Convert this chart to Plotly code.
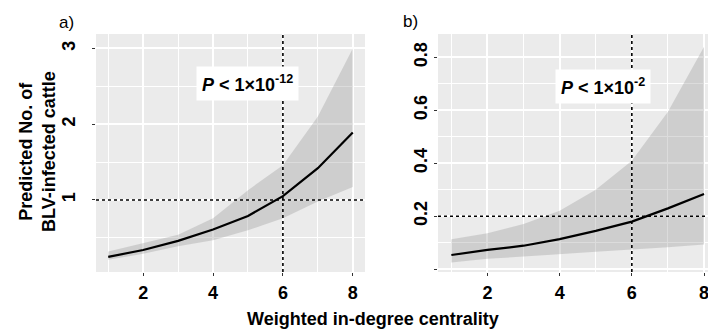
import plotly.graph_objects as go

W, H = 708, 331

# ---- data ----
centrality = [1, 2, 3, 4, 5, 6, 7, 8]
pred_a = [0.25, 0.34, 0.46, 0.61, 0.79, 1.05, 1.42, 1.89]
lower_a = [0.21, 0.29, 0.39, 0.47, 0.60, 0.76, 0.98, 1.17]
upper_a = [0.32, 0.43, 0.54, 0.76, 1.13, 1.46, 2.10, 3.00]

pred_b = [0.054, 0.073, 0.089, 0.114, 0.145, 0.180, 0.230, 0.284]
lower_b = [0.026, 0.040, 0.048, 0.058, 0.066, 0.075, 0.083, 0.094]
upper_b = [0.113, 0.136, 0.171, 0.221, 0.300, 0.410, 0.595, 0.840]

x_ticks = [2, 4, 6, 8]
x_minor = [1, 3, 5, 7]
y_ticks_a = [1, 2, 3]
y_minor_a = [0.5, 1.5, 2.5]
y_ticks_b = [0.0, 0.2, 0.4, 0.6, 0.8]
y_ticklabels_b = ["", "0.2", "0.4", "0.6", "0.8"]
y_minor_b = [0.1, 0.3, 0.5, 0.7]

ref_x = 6
ref_y_a = 1.0
ref_y_b = 0.2

label_a = "<b><i>P</i> < 1×10<sup>-12</sup></b>"
label_b = "<b><i>P</i> < 1×10<sup>-2</sup></b>"

FONT = "Liberation Sans, Arial, sans-serif"
RIB = "rgba(150,150,150,0.33)"

fig = go.Figure()

def add_panel(xa, ya, lower, upper, pred):
    fig.add_trace(go.Scatter(x=centrality, y=lower, mode="lines", line=dict(width=0),
                             xaxis=xa, yaxis=ya, showlegend=False, hoverinfo="skip"))
    fig.add_trace(go.Scatter(x=centrality, y=upper, mode="lines", line=dict(width=0),
                             fill="tonexty", fillcolor=RIB,
                             xaxis=xa, yaxis=ya, showlegend=False, hoverinfo="skip"))
    fig.add_trace(go.Scatter(x=centrality, y=pred, mode="lines",
                             line=dict(color="black", width=2.2),
                             xaxis=xa, yaxis=ya, showlegend=False))

add_panel("x", "y", lower_a, upper_a, pred_a)
add_panel("x2", "y2", lower_b, upper_b, pred_b)

tickfont = dict(family=FONT, size=18, color="black", weight="bold")

common_x = dict(tickvals=x_ticks, ticks="outside", ticklen=3, tickcolor="#333333",
                showgrid=True, gridcolor="white", gridwidth=1.6, zeroline=False,
                minor=dict(tickvals=x_minor, showgrid=True, gridcolor="white", gridwidth=0.7, ticks=""),
                tickfont=tickfont, showline=False, automargin=False,
                ticklabeloverflow="allow", ticklabelstandoff=1)

common_y = dict(tickangle=-90, ticks="outside", ticklen=3, tickcolor="#333333",
                showgrid=True, gridcolor="white", gridwidth=1.6, zeroline=False,
                tickfont=tickfont, automargin=False, ticklabeloverflow="allow")

dom_y = [1 - 272 / H, 1 - 34 / H]

fig.update_layout(
    width=W, height=H,
    margin=dict(l=0, r=0, t=0, b=0),
    paper_bgcolor="white",
    plot_bgcolor="#EBEBEB",
    xaxis=dict(common_x, domain=[96 / W, 365 / W], range=[0.65, 8.35], anchor="y"),
    xaxis2=dict(common_x, domain=[438 / W, 1.0], range=[0.63, 8.11], anchor="y2"),
    yaxis=dict(common_y, domain=dom_y, range=[0.05, 3.19], tickvals=y_ticks_a,
               minor=dict(tickvals=y_minor_a, showgrid=True, gridcolor="white", gridwidth=0.7, ticks=""),
               anchor="x", ticklabelstandoff=10),
    yaxis2=dict(common_y, domain=dom_y, range=[-0.0102, 0.888], tickvals=y_ticks_b,
                ticktext=y_ticklabels_b,
                minor=dict(tickvals=y_minor_b, showgrid=True, gridcolor="white", gridwidth=0.7, ticks=""),
                anchor="x2", ticklabelstandoff=0),
)

# dotted reference lines
dot = dict(color="black", width=1.6, dash="dot")
fig.add_shape(type="line", xref="x", yref="y domain", x0=ref_x, x1=ref_x, y0=0, y1=1, line=dot, layer="above")
fig.add_shape(type="line", xref="x domain", yref="y", x0=0, x1=1, y0=ref_y_a, y1=ref_y_a, line=dot, layer="above")
fig.add_shape(type="line", xref="x2", yref="y2 domain", x0=ref_x, x1=ref_x, y0=0, y1=1, line=dot, layer="above")
fig.add_shape(type="line", xref="x2 domain", yref="y2", x0=0, x1=1, y0=ref_y_b, y1=ref_y_b, line=dot, layer="above")

# P-value labels
fig.add_annotation(x=5.0, y=2.54, xref="x", yref="y", text=label_a, showarrow=False,
                   bgcolor="white", borderpad=5,
                   font=dict(family=FONT, size=18, color="black"))
fig.add_annotation(x=5.2, y=0.69, xref="x2", yref="y2", text=label_b, showarrow=False,
                   bgcolor="white", borderpad=5,
                   font=dict(family=FONT, size=18, color="black"))

# panel letters
fig.add_annotation(x=57 / W, y=1 - 23 / H, xref="paper", yref="paper", text="a)", showarrow=False,
                   xanchor="left", yanchor="middle", font=dict(family=FONT, size=17, color="black"))
fig.add_annotation(x=401 / W, y=1 - 21 / H, xref="paper", yref="paper", text="b)", showarrow=False,
                   xanchor="left", yanchor="middle", font=dict(family=FONT, size=17, color="black"))

# axis titles
fig.add_annotation(x=38 / W, y=1 - 152 / H, xref="paper", yref="paper",
                   text="<b>Predicted No. of<br>BLV-infected cattle</b>", textangle=-90,
                   xanchor="center", yanchor="middle",
                   showarrow=False, font=dict(family=FONT, size=18, color="black"))
fig.add_annotation(x=373 / W, y=1 - 319 / H, xref="paper", yref="paper",
                   text="<b>Weighted in-degree centrality</b>",
                   xanchor="center", yanchor="middle",
                   showarrow=False, font=dict(family=FONT, size=18, color="black"))

fig.write_html("out.html")
